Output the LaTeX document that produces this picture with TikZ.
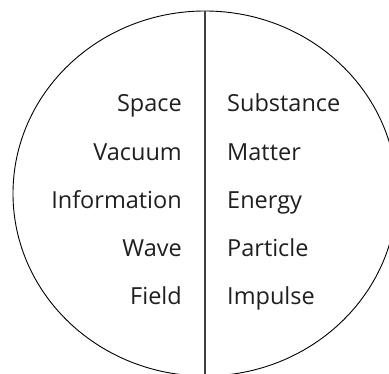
\documentclass[tikz,border=0pt]{standalone}
\usepackage{fontspec}
\setmainfont{Open Sans}
\begin{document}
\begin{tikzpicture}[x=1pt,y=1pt,
  lefttext/.style={anchor=base east,inner sep=0pt,font=\fontsize{23.5}{28}\selectfont,text=black!88},
  righttext/.style={anchor=base west,inner sep=0pt,font=\fontsize{23.5}{28}\selectfont,text=black!88},
  divider/.style={draw=black!75,line width=1.3pt},
  outline/.style={draw=black,line width=0.9pt}]
\useasboundingbox (0,0) rectangle (389,-374);
\begin{scope}
\clip (0,0) rectangle (389,-374);
\draw[outline] (205,-193.5) ellipse [x radius=192, y radius=182.5];
\coordinate (top) at (205,-11);
\coordinate (bottom) at (205,-374);
\draw[divider] (top) -- (bottom);
\end{scope}
\node[lefttext] (l1) at (182,-112) {Space};
\node[lefttext] (l2) at (182,-161) {Vacuum};
\node[lefttext] (l3) at (182,-209) {Information};
\node[lefttext] (l4) at (182,-257) {Wave};
\node[lefttext] (l5) at (182,-305) {Field};
\node[righttext] (r1) at (227,-112) {Substance};
\node[righttext] (r2) at (227,-161) {Matter};
\node[righttext] (r3) at (227,-209) {Energy};
\node[righttext] (r4) at (227,-257) {Particle};
\node[righttext] (r5) at (227,-305) {Impulse};
\end{tikzpicture}
\end{document}
